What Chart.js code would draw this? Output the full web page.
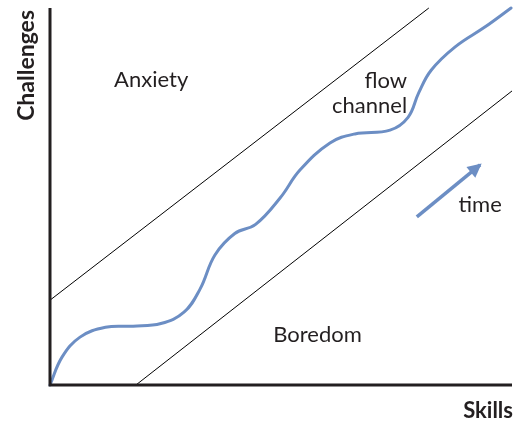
<!DOCTYPE html>
<html>
<head>
<meta charset="utf-8">
<script src="https://cdn.jsdelivr.net/npm/chart.js@4.4.1/dist/chart.umd.min.js"></script>
<style>
html,body{margin:0;padding:0;background:#fff;}
#wrap{width:524px;height:423px;}
</style>
</head>
<body>
<div id="wrap"><canvas id="c" width="524" height="423"></canvas></div>
<script>
// Data (skills on x, challenges on y, both 0-100)
const curveX = [0, 2.6, 6.5, 12, 18, 24, 29, 32.5, 35.7, 40, 44.5, 49.8, 54.1, 60.6, 66.0, 73.6, 77.5, 79.8, 82.5, 87.7, 94.2, 99.8];
const curveY = [0, 7.4, 12.7, 15.3, 15.6, 16.3, 19.3, 25.5, 34.5, 40.2, 42.6, 49.6, 57.0, 64.2, 66.6, 67.6, 71.0, 77.5, 83.5, 89.7, 95.0, 100];
const upperX = [0, 82];
const upperY = [22.5, 100];
const lowerX = [18.6, 100];
const lowerY = [0, 78];
const arrowX = [79.4, 93.1];
const arrowY = [44.6, 58.4];
const regionLabels = ["Anxiety", "Boredom", "time"];
const flowLabel = ["flow", "channel"];
const xTitle = "Skills";
const yTitle = "Challenges";

const toPts = (xs, ys) => xs.map((x, i) => ({x: x, y: ys[i]}));
const BLUE = "#6c8ec4";
const INK = "#231f20";
const FONT = "Lato";

const overlay = {
  id: "overlay",
  afterDatasetsDraw(chart) {
    const ctx = chart.ctx, a = chart.chartArea;
    const xs = chart.scales.x, ys = chart.scales.y;
    const px = v => xs.getPixelForValue(v), py = v => ys.getPixelForValue(v);
    ctx.save();
    // axes
    ctx.strokeStyle = INK;
    ctx.lineWidth = 3;
    ctx.beginPath();
    ctx.moveTo(a.left, a.top);
    ctx.lineTo(a.left, a.bottom);
    ctx.lineTo(a.right, a.bottom);
    ctx.stroke();
    // arrow head
    const x1 = px(arrowX[0]), y1 = py(arrowY[0]);
    const x2 = px(arrowX[1]), y2 = py(arrowY[1]);
    const ang = Math.atan2(y2 - y1, x2 - x1);
    const len = 14, wid = 7;
    const tx = x2 + Math.cos(ang) * 2, ty = y2 + Math.sin(ang) * 2;
    ctx.fillStyle = BLUE;
    ctx.beginPath();
    ctx.moveTo(tx, ty);
    ctx.lineTo(tx - len * Math.cos(ang) + wid * Math.sin(ang), ty - len * Math.sin(ang) - wid * Math.cos(ang));
    ctx.lineTo(tx - len * Math.cos(ang) - wid * Math.sin(ang), ty - len * Math.sin(ang) + wid * Math.cos(ang));
    ctx.closePath();
    ctx.fill();
    // labels
    ctx.fillStyle = INK;
    ctx.font = "22px " + FONT;
    ctx.textAlign = "center";
    ctx.textBaseline = "middle";
    ctx.fillText(regionLabels[0], px(21.9), py(80.9));
    ctx.fillText(regionLabels[1], px(57.9), py(13.3));
    ctx.fillText(regionLabels[2], px(93.1), py(47.7));
    ctx.textAlign = "right";
    ctx.textBaseline = "alphabetic";
    ctx.fillText(flowLabel[0], px(77.3), py(78.8));
    ctx.fillText(flowLabel[1], px(77.3), py(72.1));
    // axis titles
    ctx.font = "bold 22px " + FONT;
    ctx.textAlign = "right";
    ctx.textBaseline = "middle";
    ctx.fillText(xTitle, a.right + 1, a.bottom + 26);
    ctx.font = "bold 23px " + FONT;
    ctx.translate(a.left - 23, a.top);
    ctx.rotate(-Math.PI / 2);
    ctx.textAlign = "right";
    ctx.fillText(yTitle, -2, 0);
    ctx.restore();
  }
};

new Chart(document.getElementById("c"), {
  type: "line",
  data: {
    datasets: [
      {data: toPts(upperX, upperY), borderColor: "#000", borderWidth: 1, pointRadius: 0, tension: 0},
      {data: toPts(lowerX, lowerY), borderColor: "#000", borderWidth: 1, pointRadius: 0, tension: 0},
      {data: toPts(curveX, curveY), borderColor: BLUE, borderWidth: 3, pointRadius: 0, tension: 0.4, borderCapStyle: "round"},
      {data: toPts(arrowX, arrowY), borderColor: BLUE, borderWidth: 3.5, pointRadius: 0, tension: 0}
    ]
  },
  options: {
    responsive: false,
    animation: false,
    clip: false,
    layout: {padding: {left: 50, right: 12, top: 8, bottom: 38}},
    plugins: {legend: {display: false}, tooltip: {enabled: false}},
    scales: {
      x: {type: "linear", min: 0, max: 100, display: false},
      y: {type: "linear", min: 0, max: 100, display: false}
    }
  },
  plugins: [overlay]
});
</script>
</body>
</html>
